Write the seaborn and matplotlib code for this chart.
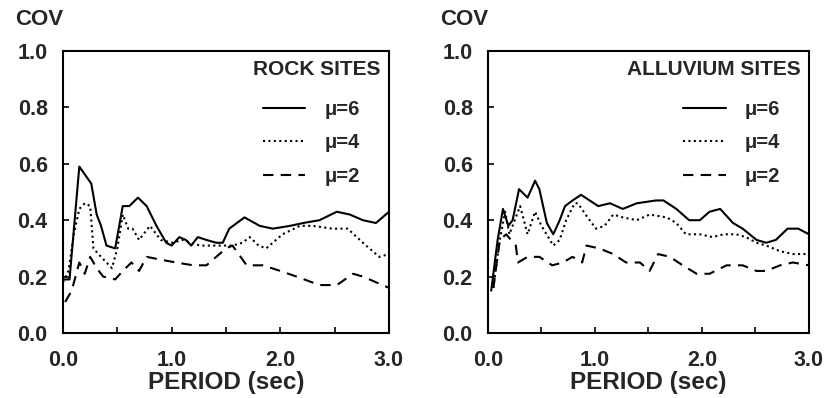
import numpy as np
import pandas as pd
import matplotlib
matplotlib.use("Agg")
import matplotlib.pyplot as plt
import seaborn as sns

# ---- data: ROCK SITES ----
rock_mu6_x = [0.0, 0.06, 0.15, 0.26, 0.31, 0.35, 0.40, 0.48, 0.55, 0.61, 0.69, 0.77, 0.86, 0.95, 1.00,
              1.07, 1.13, 1.18, 1.24, 1.32, 1.41, 1.47, 1.53, 1.67, 1.81, 1.93, 2.09, 2.21, 2.36, 2.52,
              2.64, 2.76, 2.88, 3.0]
rock_mu6_y = [0.19, 0.19, 0.59, 0.53, 0.42, 0.38, 0.31, 0.30, 0.45, 0.45, 0.48, 0.45, 0.38, 0.32, 0.31,
              0.34, 0.33, 0.31, 0.34, 0.33, 0.32, 0.32, 0.37, 0.41, 0.38, 0.37, 0.38, 0.39, 0.40, 0.43,
              0.42, 0.40, 0.39, 0.43]
rock_mu4_x = [0.0, 0.05, 0.10, 0.15, 0.20, 0.25, 0.28, 0.35, 0.40, 0.45, 0.50, 0.55, 0.60, 0.64, 0.70,
              0.80, 0.90, 1.01, 1.10, 1.26, 1.38, 1.56, 1.65, 1.72, 1.80, 1.87, 2.02, 2.18, 2.30, 2.48,
              2.62, 2.76, 2.91, 3.0]
rock_mu4_y = [0.18, 0.22, 0.35, 0.44, 0.46, 0.45, 0.30, 0.27, 0.25, 0.23, 0.30, 0.42, 0.37, 0.37, 0.33,
              0.38, 0.33, 0.32, 0.33, 0.31, 0.31, 0.31, 0.32, 0.34, 0.31, 0.30, 0.35, 0.38, 0.38, 0.37,
              0.37, 0.32, 0.27, 0.28]
rock_mu2_x = [0.02, 0.08, 0.15, 0.20, 0.25, 0.31, 0.37, 0.48, 0.55, 0.63, 0.70, 0.77, 0.90, 1.04, 1.20,
              1.32, 1.41, 1.50, 1.56, 1.69, 1.84, 2.00, 2.15, 2.36, 2.52, 2.67, 2.76, 2.88, 3.0]
rock_mu2_y = [0.11, 0.15, 0.25, 0.21, 0.27, 0.23, 0.20, 0.19, 0.22, 0.25, 0.22, 0.27, 0.26, 0.25, 0.24,
              0.24, 0.27, 0.30, 0.31, 0.24, 0.24, 0.22, 0.20, 0.17, 0.17, 0.21, 0.20, 0.18, 0.16]

# ---- data: ALLUVIUM SITES ----
all_mu6_x = [0.03, 0.09, 0.14, 0.19, 0.23, 0.29, 0.37, 0.44, 0.48, 0.55, 0.61, 0.67, 0.72, 0.79, 0.87,
             0.95, 1.03, 1.14, 1.26, 1.39, 1.57, 1.64, 1.76, 1.88, 1.98, 2.07, 2.17, 2.29, 2.38, 2.51,
             2.60, 2.69, 2.80, 2.90, 3.0]
all_mu6_y = [0.15, 0.33, 0.44, 0.38, 0.40, 0.51, 0.48, 0.54, 0.51, 0.39, 0.35, 0.40, 0.45, 0.47, 0.49,
             0.47, 0.45, 0.46, 0.44, 0.46, 0.47, 0.47, 0.44, 0.40, 0.40, 0.43, 0.44, 0.39, 0.37, 0.33,
             0.32, 0.33, 0.37, 0.37, 0.35]
all_mu4_x = [0.05, 0.11, 0.16, 0.20, 0.30, 0.37, 0.44, 0.50, 0.61, 0.67, 0.73, 0.81, 0.84, 0.93, 1.01,
             1.09, 1.17, 1.26, 1.39, 1.51, 1.67, 1.76, 1.85, 1.98, 2.10, 2.20, 2.32, 2.41, 2.51, 2.60,
             2.73, 2.85, 3.0]
all_mu4_y = [0.16, 0.33, 0.43, 0.35, 0.45, 0.35, 0.43, 0.38, 0.31, 0.33, 0.40, 0.46, 0.46, 0.41, 0.37,
             0.38, 0.42, 0.41, 0.40, 0.42, 0.41, 0.39, 0.35, 0.35, 0.34, 0.35, 0.35, 0.34, 0.32, 0.31,
             0.29, 0.28, 0.28]
all_mu2_x = [0.05, 0.11, 0.17, 0.26, 0.28, 0.37, 0.48, 0.60, 0.70, 0.79, 0.88, 0.92, 1.04, 1.17, 1.29,
             1.42, 1.51, 1.59, 1.70, 1.82, 1.95, 2.07, 2.23, 2.38, 2.51, 2.60, 2.73, 2.85, 3.0]
all_mu2_y = [0.16, 0.33, 0.35, 0.31, 0.25, 0.27, 0.27, 0.24, 0.25, 0.27, 0.25, 0.31, 0.30, 0.28, 0.25,
             0.25, 0.22, 0.28, 0.27, 0.24, 0.21, 0.21, 0.24, 0.24, 0.22, 0.22, 0.24, 0.25, 0.24]

labels = ["μ=6", "μ=4", "μ=2"]
x_ticks = [0.0, 1.0, 2.0, 3.0]
x_minor_ticks = [0.5, 1.5, 2.5]
y_ticks = [0.0, 0.2, 0.4, 0.6, 0.8, 1.0]
panel_titles = ["ROCK SITES", "ALLUVIUM SITES"]


def make_df(series):
    frames = []
    for lab, (xs, ys) in zip(labels, series):
        frames.append(pd.DataFrame({"period": xs, "cov": ys, "mu": lab}))
    return pd.concat(frames, ignore_index=True)


rock_df = make_df([(rock_mu6_x, rock_mu6_y), (rock_mu4_x, rock_mu4_y), (rock_mu2_x, rock_mu2_y)])
all_df = make_df([(all_mu6_x, all_mu6_y), (all_mu4_x, all_mu4_y), (all_mu2_x, all_mu2_y)])

sns.set_theme(style="white")
plt.rcParams["font.family"] = ["Liberation Sans", "DejaVu Sans"]
plt.rcParams["font.weight"] = "bold"

fig = plt.figure(figsize=(8.29, 3.98), dpi=100)
W, H = 829, 398
ax1 = fig.add_axes([63 / W, 1 - 333 / H, (389 - 63) / W, (333 - 51) / H])
ax2 = fig.add_axes([488 / W, 1 - 333 / H, (809 - 488) / W, (333 - 51) / H])

dashes = {"μ=6": "", "μ=4": (1, 1.6), "μ=2": (5, 3.5)}
fs = 15.5

for ax, df, title, anchor_x in [(ax1, rock_df, panel_titles[0], 0.935),
                                (ax2, all_df, panel_titles[1], 0.935)]:
    sns.lineplot(data=df, x="period", y="cov", style="mu", style_order=labels,
                 dashes=dashes, color="black", linewidth=1.5, ax=ax, legend=False,
                 estimator=None, sort=False)
    ax.set_xlim(0, 3.0)
    ax.set_ylim(0, 1.0)
    ax.set_xticks(x_ticks)
    ax.set_xticks(x_minor_ticks, minor=True)
    ax.set_xticklabels([f"{v:.1f}" for v in x_ticks], fontsize=fs, fontweight="bold")
    ax.set_yticks(y_ticks)
    ax.set_yticklabels([f"{v:.1f}" for v in y_ticks], fontsize=fs, fontweight="bold")
    ax.tick_params(axis="both", which="both", direction="in", length=4, width=1.2,
                   color="black", bottom=True, left=True, top=False, right=False)
    ax.tick_params(axis="y", pad=11)
    ax.tick_params(axis="x", pad=12)
    ax.set_xlabel("PERIOD (sec)", fontsize=17.5, fontweight="bold", labelpad=0)
    ax.set_ylabel("")
    for s in ax.spines.values():
        s.set_color("black")
        s.set_linewidth(1.5)
    ax.text(0, 1.11, "COV", transform=ax.transAxes, ha="right", va="center",
            fontsize=16, fontweight="bold")
    ax.text(0.975, 0.935, title, transform=ax.transAxes, ha="right", va="center",
            fontsize=15, fontweight="bold")
    handles = list(ax.get_lines())[:3]
    ax.legend(handles, labels, loc="upper right", bbox_to_anchor=(anchor_x, 0.855),
              frameon=False, prop={"size": 14.5, "weight": "bold"}, handlelength=2.1,
              handletextpad=0.95, labelspacing=0.72, borderaxespad=0)

fig.savefig("out.png", dpi=100, facecolor="white")
